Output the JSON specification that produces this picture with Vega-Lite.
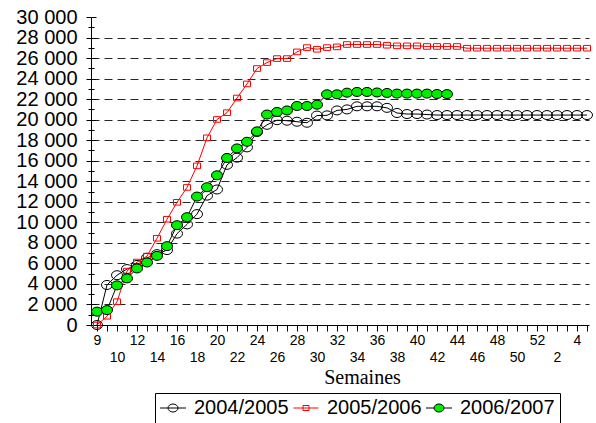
{
  "$schema": "https://vega.github.io/schema/vega-lite/v6.json",
  "autosize": {"type": "none"},
  "width": 498,
  "height": 308,
  "padding": {"left": 91, "top": 17, "right": 7, "bottom": 98},
  "background": "white",
  "config": {"view": {"stroke": null}, "font": "Liberation Sans"},
  "data": {"values": [
    {"serie":"2004/2005","i":0,"v":0},{"serie":"2004/2005","i":1,"v":3900},{"serie":"2004/2005","i":2,"v":4850},{"serie":"2004/2005","i":3,"v":5450},{"serie":"2004/2005","i":4,"v":5850},{"serie":"2004/2005","i":5,"v":6550},{"serie":"2004/2005","i":6,"v":6900},{"serie":"2004/2005","i":7,"v":7300},{"serie":"2004/2005","i":8,"v":8900},{"serie":"2004/2005","i":9,"v":9800},
    {"serie":"2004/2005","i":10,"v":10800},{"serie":"2004/2005","i":11,"v":12600},{"serie":"2004/2005","i":12,"v":13200},{"serie":"2004/2005","i":13,"v":15600},{"serie":"2004/2005","i":14,"v":16300},{"serie":"2004/2005","i":15,"v":17300},{"serie":"2004/2005","i":16,"v":18800},{"serie":"2004/2005","i":17,"v":19500},{"serie":"2004/2005","i":18,"v":19950},{"serie":"2004/2005","i":19,"v":19900},
    {"serie":"2004/2005","i":20,"v":19800},{"serie":"2004/2005","i":21,"v":19700},{"serie":"2004/2005","i":22,"v":20400},{"serie":"2004/2005","i":23,"v":20420},{"serie":"2004/2005","i":24,"v":20900},{"serie":"2004/2005","i":25,"v":21000},{"serie":"2004/2005","i":26,"v":21300},{"serie":"2004/2005","i":27,"v":21300},{"serie":"2004/2005","i":28,"v":21300},{"serie":"2004/2005","i":29,"v":21150},
    {"serie":"2004/2005","i":30,"v":20650},{"serie":"2004/2005","i":31,"v":20550},{"serie":"2004/2005","i":32,"v":20550},{"serie":"2004/2005","i":33,"v":20500},{"serie":"2004/2005","i":34,"v":20450},{"serie":"2004/2005","i":35,"v":20450},{"serie":"2004/2005","i":36,"v":20450},{"serie":"2004/2005","i":37,"v":20450},{"serie":"2004/2005","i":38,"v":20450},{"serie":"2004/2005","i":39,"v":20450},
    {"serie":"2004/2005","i":40,"v":20450},{"serie":"2004/2005","i":41,"v":20450},{"serie":"2004/2005","i":42,"v":20450},{"serie":"2004/2005","i":43,"v":20450},{"serie":"2004/2005","i":44,"v":20450},{"serie":"2004/2005","i":45,"v":20450},{"serie":"2004/2005","i":46,"v":20450},{"serie":"2004/2005","i":47,"v":20450},{"serie":"2004/2005","i":48,"v":20450},{"serie":"2004/2005","i":49,"v":20450},
    {"serie":"2005/2006","i":0,"v":0},{"serie":"2005/2006","i":1,"v":850},{"serie":"2005/2006","i":2,"v":2270},{"serie":"2005/2006","i":3,"v":5250},{"serie":"2005/2006","i":4,"v":6130},{"serie":"2005/2006","i":5,"v":6710},{"serie":"2005/2006","i":6,"v":8450},{"serie":"2005/2006","i":7,"v":10300},{"serie":"2005/2006","i":8,"v":11950},{"serie":"2005/2006","i":9,"v":13400},
    {"serie":"2005/2006","i":10,"v":15500},{"serie":"2005/2006","i":11,"v":18230},{"serie":"2005/2006","i":12,"v":20020},{"serie":"2005/2006","i":13,"v":20680},{"serie":"2005/2006","i":14,"v":22110},{"serie":"2005/2006","i":15,"v":23480},{"serie":"2005/2006","i":16,"v":24980},{"serie":"2005/2006","i":17,"v":25560},{"serie":"2005/2006","i":18,"v":25950},{"serie":"2005/2006","i":19,"v":25950},
    {"serie":"2005/2006","i":20,"v":26600},{"serie":"2005/2006","i":21,"v":27020},{"serie":"2005/2006","i":22,"v":26860},{"serie":"2005/2006","i":23,"v":27020},{"serie":"2005/2006","i":24,"v":27090},{"serie":"2005/2006","i":25,"v":27320},{"serie":"2005/2006","i":26,"v":27320},{"serie":"2005/2006","i":27,"v":27320},{"serie":"2005/2006","i":28,"v":27320},{"serie":"2005/2006","i":29,"v":27250},
    {"serie":"2005/2006","i":30,"v":27190},{"serie":"2005/2006","i":31,"v":27190},{"serie":"2005/2006","i":32,"v":27190},{"serie":"2005/2006","i":33,"v":27130},{"serie":"2005/2006","i":34,"v":27130},{"serie":"2005/2006","i":35,"v":27130},{"serie":"2005/2006","i":36,"v":27130},{"serie":"2005/2006","i":37,"v":26960},{"serie":"2005/2006","i":38,"v":26960},{"serie":"2005/2006","i":39,"v":26960},
    {"serie":"2005/2006","i":40,"v":26960},{"serie":"2005/2006","i":41,"v":26960},{"serie":"2005/2006","i":42,"v":26960},{"serie":"2005/2006","i":43,"v":26960},{"serie":"2005/2006","i":44,"v":26960},{"serie":"2005/2006","i":45,"v":26960},{"serie":"2005/2006","i":46,"v":26960},{"serie":"2005/2006","i":47,"v":26960},{"serie":"2005/2006","i":48,"v":26960},{"serie":"2005/2006","i":49,"v":26960},
    {"serie":"2006/2007","i":0,"v":1300},{"serie":"2006/2007","i":1,"v":1450},{"serie":"2006/2007","i":2,"v":3860},{"serie":"2006/2007","i":3,"v":4540},{"serie":"2006/2007","i":4,"v":5510},{"serie":"2006/2007","i":5,"v":6090},{"serie":"2006/2007","i":6,"v":6735},{"serie":"2006/2007","i":7,"v":7680},{"serie":"2006/2007","i":8,"v":9720},{"serie":"2006/2007","i":9,"v":10500},
    {"serie":"2006/2007","i":10,"v":12510},{"serie":"2006/2007","i":11,"v":13420},{"serie":"2006/2007","i":12,"v":14580},{"serie":"2006/2007","i":13,"v":16270},{"serie":"2006/2007","i":14,"v":17200},{"serie":"2006/2007","i":15,"v":17850},{"serie":"2006/2007","i":16,"v":18860},{"serie":"2006/2007","i":17,"v":20500},{"serie":"2006/2007","i":18,"v":20750},{"serie":"2006/2007","i":19,"v":20900},
    {"serie":"2006/2007","i":20,"v":21330},{"serie":"2006/2007","i":21,"v":21330},{"serie":"2006/2007","i":22,"v":21460},{"serie":"2006/2007","i":23,"v":22470},{"serie":"2006/2007","i":24,"v":22470},{"serie":"2006/2007","i":25,"v":22630},{"serie":"2006/2007","i":26,"v":22700},{"serie":"2006/2007","i":27,"v":22700},{"serie":"2006/2007","i":28,"v":22650},{"serie":"2006/2007","i":29,"v":22600},
    {"serie":"2006/2007","i":30,"v":22540},{"serie":"2006/2007","i":31,"v":22540},{"serie":"2006/2007","i":32,"v":22540},{"serie":"2006/2007","i":33,"v":22540},{"serie":"2006/2007","i":34,"v":22500},{"serie":"2006/2007","i":35,"v":22490}
  ]},
  "resolve": {"axis": {"x": "independent", "y": "independent"}},
  "layer": [
    {
      "transform": [{"filter": "datum.serie != '2005/2006'"}],
      "mark": {"type": "line", "strokeWidth": 1, "stroke": "#000000"},
      "encoding": {
        "x": {"field": "i", "type": "quantitative",
          "scale": {"domain": [-0.6, 49.2], "nice": false, "zero": false},
          "axis": {"orient": "bottom",
            "values": [0,1,2,3,4,5,6,7,8,9,10,11,12,13,14,15,16,17,18,19,20,21,22,23,24,25,26,27,28,29,30,31,32,33,34,35,36,37,38,39,40,41,42,43,44,45,46,47,48,49],
            "tickSize": 6, "tickColor": "#000000", "tickWidth": 1, "domainColor": "#000000", "domainWidth": 1,
            "labelExpr": "datum.value == 0 ? '9' : (datum.value % 4 == 0 ? '' + ((datum.value + 7) % 52 + 1) : '')",
            "labelFont": "Liberation Sans", "labelFontSize": 14, "labelColor": "#000000", "labelPadding": 2,
            "labelOverlap": false, "labelFlush": false, "labelBound": false, "grid": false,
            "title": "Semaines", "titleFont": "Liberation Serif", "titleFontSize": 20, "titleFontWeight": "normal",
            "titleColor": "#000000", "titleX": 271, "titleY": 58, "titleBaseline": "alphabetic", "titleAlign": "center"}},
        "y": {"field": "v", "type": "quantitative",
          "scale": {"domain": [0, 30000], "nice": false, "zero": false},
          "axis": {"orient": "left",
            "values": [0,2000,4000,6000,8000,10000,12000,14000,16000,18000,20000,22000,24000,26000,28000,30000],
            "tickSize": 5, "tickColor": "#000000", "tickWidth": 1, "domainColor": "#000000", "domainWidth": 1,
            "labelExpr": "replace(format(datum.value, ','), ',', ' ')",
            "labelFont": "Liberation Sans", "labelFontSize": 20, "labelColor": "#000000", "labelPadding": 9,
            "labelOverlap": false, "labelFlush": false, "labelBound": false,
            "grid": true, "gridColor": "#000000", "gridDash": [8, 5], "gridWidth": 1,
            "gridOpacity": {"condition": {"test": "datum.value == 0 || datum.value == 30000", "value": 0}, "value": 0.85},
            "title": null}},
        "detail": {"field": "serie", "type": "nominal"}
      }
    },
    {
      "transform": [{"filter": "datum.serie == '2005/2006'"}],
      "mark": {"type": "line", "strokeWidth": 1, "stroke": "#ff0000"},
      "encoding": {
        "x": {"field": "i", "type": "quantitative", "axis": null},
        "y": {"field": "v", "type": "quantitative", "axis": null}
      }
    },
    {
      "transform": [{"filter": "datum.serie == '2004/2005'"}],
      "mark": {"type": "point", "shape": "M-1,0A1,0.82,0,1,0,1,0A1,0.82,0,1,0,-1,0Z", "size": 121, "strokeWidth": 1, "opacity": 1, "stroke": "#000000", "fill": "transparent"},
      "encoding": {
        "x": {"field": "i", "type": "quantitative",
          "axis": {"orient": "bottom", "values": [2,6,10,14,18,22,26,30,34,38,42,46],
            "ticks": false, "tickSize": 0, "domain": false, "grid": false,
            "labelExpr": "'' + ((datum.value + 7) % 52 + 1)",
            "labelFont": "Liberation Sans", "labelFontSize": 14, "labelColor": "#000000", "labelPadding": 25,
            "labelOverlap": false, "labelFlush": false, "labelBound": false, "title": null}},
        "y": {"field": "v", "type": "quantitative",
          "axis": {"orient": "left", "values": [0,2000,4000,6000,8000,10000,12000,14000,16000,18000,20000,22000,24000,26000,28000,30000],
            "tickSize": -5, "tickColor": "#000000", "labels": false, "domain": false, "grid": false, "title": null}}
      }
    },
    {
      "transform": [{"filter": "datum.serie == '2005/2006'"}],
      "mark": {"type": "point", "shape": "M-1,-0.8H1V0.8H-1Z", "size": 49, "strokeWidth": 1, "opacity": 1, "stroke": "#ff0000", "fill": "transparent"},
      "encoding": {
        "x": {"field": "i", "type": "quantitative", "axis": null},
        "y": {"field": "v", "type": "quantitative",
          "axis": {"orient": "left", "values": [1000,3000,5000,7000,9000,11000,13000,15000,17000,19000,21000,23000,25000,27000,29000],
            "tickSize": 3, "tickColor": "#000000", "labels": false, "domain": false, "grid": false, "title": null}}
      }
    },
    {
      "transform": [{"filter": "datum.serie == '2006/2007'"}],
      "mark": {"type": "point", "shape": "M-1,0A1,0.82,0,1,0,1,0A1,0.82,0,1,0,-1,0Z", "size": 121, "strokeWidth": 1, "opacity": 1, "stroke": "#000000", "fill": "#00ee00", "filled": true},
      "encoding": {
        "x": {"field": "i", "type": "quantitative", "axis": null},
        "y": {"field": "v", "type": "quantitative", "axis": null}
      }
    },
    {
      "mark": {"type": "point", "size": 0, "strokeWidth": 1, "opacity": 1},
      "encoding": {
        "x": {"field": "i", "type": "quantitative", "axis": null},
        "y": {"field": "v", "type": "quantitative",
          "axis": {"orient": "left", "values": [1000,3000,5000,7000,9000,11000,13000,15000,17000,19000,21000,23000,25000,27000,29000],
            "tickSize": -3, "tickColor": "#000000", "labels": false, "domain": false, "grid": false, "title": null}},
        "shape": {"field": "serie", "type": "nominal",
          "scale": {"domain": ["2004/2005", "2005/2006", "2006/2007"],
            "range": ["M-2.6,0H2.6M-1,0A1,0.8,0,1,0,1,0A1,0.8,0,1,0,-1,0Z", "M-2.5,0H2.5M-0.6,-0.5H0.6V0.5H-0.6Z", "M-2.6,0H-1M1,0H2.6M-1,0A1,0.8,0,1,0,1,0A1,0.8,0,1,0,-1,0Z"]},
          "legend": {"title": null, "orient": "none", "legendX": 64, "legendY": 376, "direction": "horizontal",
            "padding": 5, "strokeColor": "#000000", "fillColor": "#ffffff", "symbolSize": 100, "symbolStrokeWidth": 1,
            "symbolOffset": 3, "labelOffset": 11, "columnPadding": 2, "labelFont": "Liberation Sans", "labelFontSize": 20,
            "labelColor": "#000000", "labelLimit": 300, "symbolOpacity": 1, "symbolFillColor": "transparent", "symbolStrokeColor": "#000000"}},
        "stroke": {"field": "serie", "type": "nominal",
          "scale": {"domain": ["2004/2005", "2005/2006", "2006/2007"], "range": ["#000000", "#ff0000", "#000000"]},
          "legend": {"title": null, "orient": "none", "legendX": 64, "legendY": 376, "direction": "horizontal",
            "padding": 5, "strokeColor": "#000000", "fillColor": "#ffffff", "symbolSize": 100, "symbolStrokeWidth": 1,
            "symbolOffset": 3, "labelOffset": 11, "columnPadding": 2, "labelFont": "Liberation Sans", "labelFontSize": 20,
            "labelColor": "#000000", "labelLimit": 300, "symbolOpacity": 1, "symbolFillColor": "transparent", "symbolStrokeColor": "#000000"}},
        "fill": {"field": "serie", "type": "nominal",
          "scale": {"domain": ["2004/2005", "2005/2006", "2006/2007"], "range": ["transparent", "transparent", "#00ee00"]},
          "legend": {"title": null, "orient": "none", "legendX": 64, "legendY": 376, "direction": "horizontal",
            "padding": 5, "strokeColor": "#000000", "fillColor": "#ffffff", "symbolSize": 100, "symbolStrokeWidth": 1,
            "symbolOffset": 3, "labelOffset": 11, "columnPadding": 2, "labelFont": "Liberation Sans", "labelFontSize": 20,
            "labelColor": "#000000", "labelLimit": 300, "symbolOpacity": 1, "symbolFillColor": "transparent", "symbolStrokeColor": "#000000"}}
      }
    }
  ]
}
